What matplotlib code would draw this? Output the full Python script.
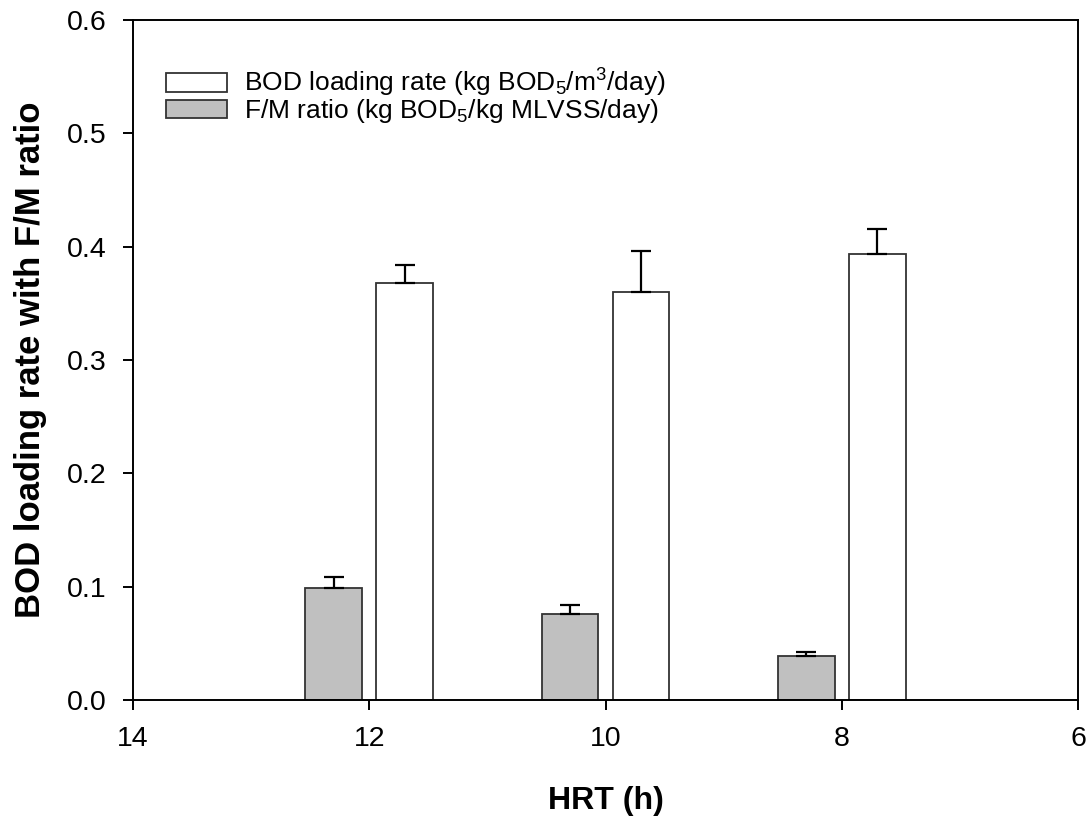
import matplotlib
matplotlib.use('Agg')
import matplotlib.pyplot as plt

plt.rcParams['font.family'] = ['Liberation Sans', 'DejaVu Sans']
plt.rcParams['mathtext.default'] = 'regular'

# HRT (h) and the values
hrt = [12, 10, 8]
bod_rate = [0.368, 0.360, 0.394]
bod_err = [0.016, 0.036, 0.022]
fm_ratio = [0.099, 0.076, 0.039]
fm_err = [0.010, 0.008, 0.003]

offset = 0.3
bar_width = 0.48

fig = plt.figure(figsize=(10.92, 8.26), dpi=100)
ax = fig.add_axes([0.1218, 0.1525, 0.8654, 0.8232])

err_kw = dict(ecolor='black', elinewidth=1.6, capsize=7.5, capthick=1.6)

fm_bars = ax.bar([h + offset for h in hrt], fm_ratio, width=bar_width,
                 color='#c0c0c0', edgecolor='#333333', linewidth=1.3,
                 yerr=[[0] * len(fm_err), fm_err], error_kw=err_kw, zorder=2)
bod_bars = ax.bar([h - offset for h in hrt], bod_rate, width=bar_width,
                  color='white', edgecolor='#333333', linewidth=1.3,
                  yerr=[[0] * len(bod_err), bod_err], error_kw=err_kw, zorder=2)

ax.set_xlim(14, 6)
ax.set_ylim(0, 0.6)
ax.set_xticks([14, 12, 10, 8, 6])
ax.set_yticks([0.0, 0.1, 0.2, 0.3, 0.4, 0.5, 0.6])
ax.set_yticklabels(['0.0', '0.1', '0.2', '0.3', '0.4', '0.5', '0.6'])

for s in ax.spines.values():
    s.set_linewidth(1.4)
ax.tick_params(direction='out', length=7, width=1.4, labelsize=20.5, pad=12)

ax.set_xlabel('HRT (h)', fontsize=23, fontweight='bold', labelpad=24)
ax.set_ylabel('BOD loading rate with F/M ratio', fontsize=25, fontweight='bold', labelpad=14)

ax.legend([bod_bars, fm_bars],
          ['BOD loading rate (kg BOD$_5$/m$^3$/day)',
           'F/M ratio (kg BOD$_5$/kg MLVSS/day)'],
          loc='upper left', bbox_to_anchor=(0.035, 0.931), frameon=False,
          fontsize=19, handlelength=2.3, handleheight=0.7, labelspacing=-0.08,
          handletextpad=0.65, borderpad=0, borderaxespad=0)

fig.savefig('out.png', dpi=100)
